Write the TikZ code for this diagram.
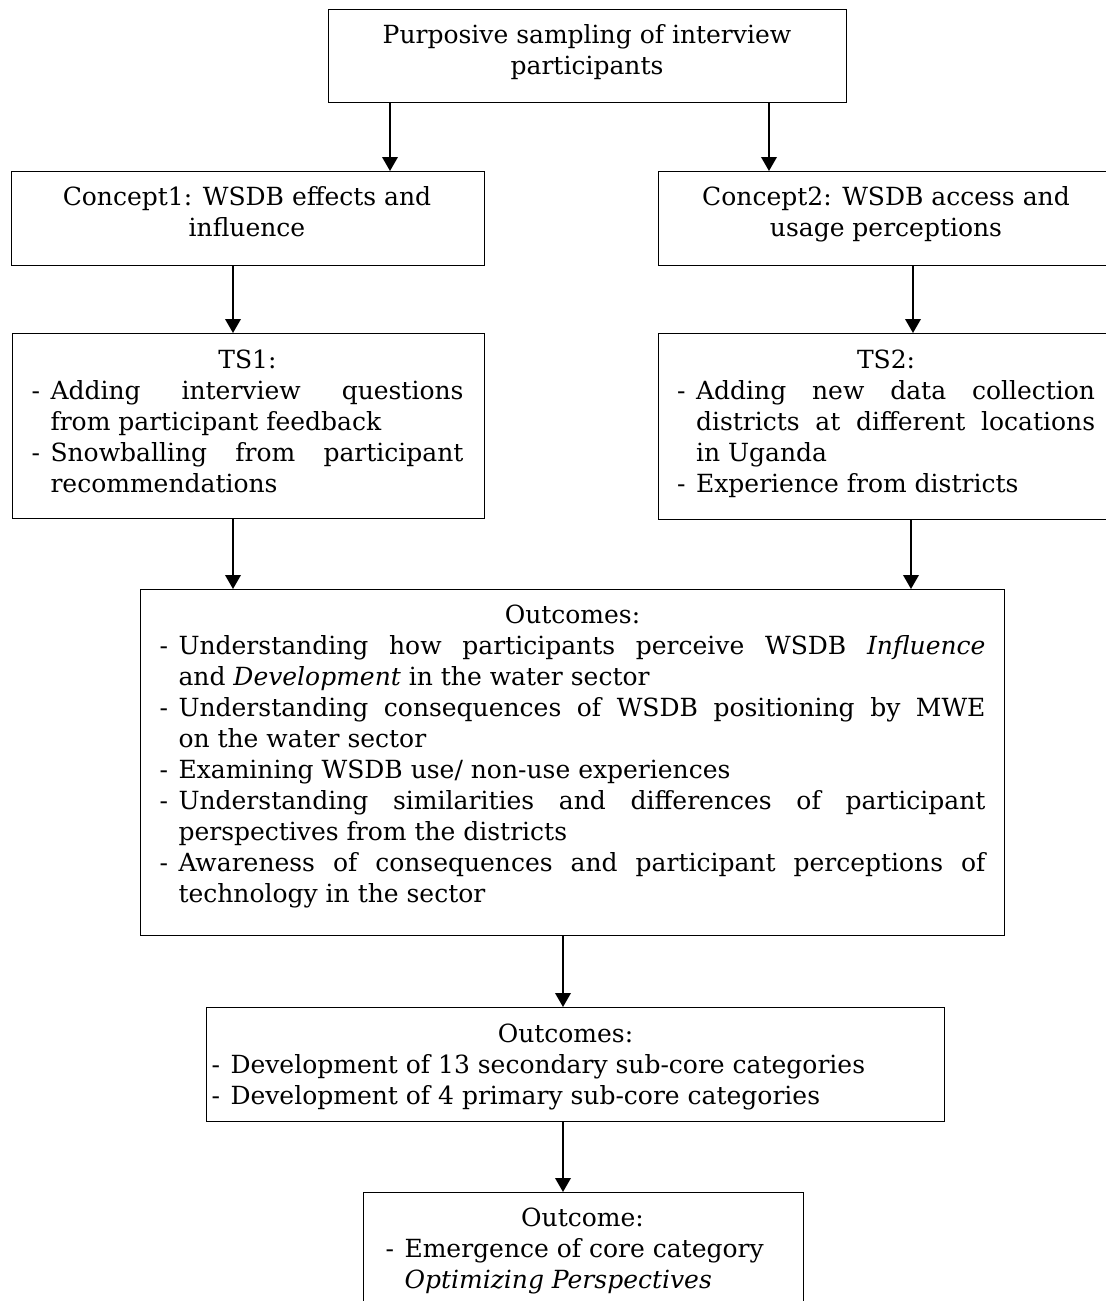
\documentclass[tikz,border=0pt]{standalone}
\usepackage{fontspec}
\setmainfont{DejaVu Serif}
\usetikzlibrary{arrows.meta}

% width of the hanging dash in item lines
\newlength\dashw
\setlength\dashw{7.6pt}
\newcommand\dashitem[1]{\hangindent=\dashw\hangafter=1\noindent\makebox[\dashw][l]{-}#1\par}
\newcommand\boxhead[1]{\noindent\makebox[\linewidth]{\strut#1}\par}

\tikzset{
  frame/.style={draw, line width=0.55pt, inner sep=0pt, anchor=north west},
  txt/.style={inner sep=0pt, font=\fontsize{10}{12.4}\selectfont},
  para/.style={txt, anchor=north west, align=justify,
    execute at begin node={\parindent=0pt\parskip=0pt\hyphenpenalty=10000\tolerance=9999}},
  arr/.style={line width=0.8pt, -{Triangle[length=5.6pt,width=6.2pt]}}
}

\begin{document}
\begin{tikzpicture}[x=0.4pt, y=-0.4pt]
  \useasboundingbox (0,0) rectangle (1106,1301);
  \fill[white] (0,0) rectangle (1106,1301);
  \clip (0,0) rectangle (1106,1301);

  % boxes
  \node[frame, minimum width=518*0.4pt, minimum height=93*0.4pt] (top) at (328,9) {};
  \node[frame, minimum width=473*0.4pt, minimum height=94*0.4pt] (c1) at (11,171) {};
  \node[frame, minimum width=457.5*0.4pt, minimum height=94*0.4pt] (c2) at (657.5,171) {};
  \node[frame, minimum width=472*0.4pt, minimum height=185*0.4pt] (ts1) at (12,333) {};
  \node[frame, minimum width=457.5*0.4pt, minimum height=186*0.4pt] (ts2) at (657.5,333) {};
  \node[frame, minimum width=864*0.4pt, minimum height=346*0.4pt] (out) at (140,589) {};
  \node[frame, minimum width=738*0.4pt, minimum height=114*0.4pt] (sub) at (206,1007) {};
  \node[frame, minimum width=440*0.4pt, minimum height=128*0.4pt] (core) at (363,1192) {};

  % texts
  \node[txt, anchor=north, align=center] (toptext) at (587,21.3)
    {\strut Purposive sampling of interview\\participants};
  \node[txt, anchor=north, align=center] (c1text) at (247,183.3)
    {\strut Concept1: WSDB effects and\\influence};
  \node[txt, anchor=north, align=center] (c2text) at (886,183.3)
    {\strut Concept2: WSDB access and\\usage perceptions};

  \node[para, text width=432*0.4pt] (ts1text) at (31,346.3) {%
    \boxhead{TS1:}
    \dashitem{Adding interview questions\linebreak from participant feedback}
    \dashitem{Snowballing from participant\linebreak recommendations}};

  \node[para, text width=418*0.4pt] (ts2text) at (676.6,346.3) {%
    \boxhead{TS2:}
    \dashitem{Adding new data collection\linebreak districts at different locations\linebreak in Uganda}
    \dashitem{Experience from districts}};

  \node[para, text width=826*0.4pt] (outtext) at (159,601.3) {%
    \boxhead{Outcomes:}
    \dashitem{Understanding how participants perceive WSDB \textit{Influence}\linebreak and \textit{Development} in the water sector}
    \dashitem{Understanding consequences of WSDB positioning by MWE\linebreak on the water sector}
    \dashitem{Examining WSDB use/ non-use experiences}
    \dashitem{Understanding similarities and differences of participant\linebreak perspectives from the districts}
    \dashitem{Awareness of consequences and participant perceptions of\linebreak technology in the sector}};

  \node[para, text width=708*0.4pt] (subtext) at (211,1020) {%
    \boxhead{Outcomes:}
    \dashitem{Development of 13 secondary sub-core categories}
    \dashitem{Development of 4 primary sub-core categories}};

  \node[para, text width=394*0.4pt] (coretext) at (385,1204.3) {%
    \boxhead{Outcome:}
    \dashitem{Emergence of core category\newline \textit{Optimizing Perspectives}}};

  % connector columns
  \coordinate (xa) at (390,0);
  \coordinate (xb) at (769,0);
  \coordinate (xc) at (233,0);
  \coordinate (xd) at (913,0);
  \coordinate (xe) at (911,0);
  \coordinate (xf) at (563,0);

  % connectors
  \draw[arr] (top.south -| xa) -- (c1.north -| xa);
  \draw[arr] (top.south -| xb) -- (c2.north -| xb);
  \draw[arr] (c1.south -| xc) -- (ts1.north -| xc);
  \draw[arr] (c2.south -| xd) -- (ts2.north -| xd);
  \draw[arr] (ts1.south -| xc) -- (out.north -| xc);
  \draw[arr] (ts2.south -| xe) -- (out.north -| xe);
  \draw[arr] (out.south -| xf) -- (sub.north -| xf);
  \draw[arr] (sub.south -| xf) -- (core.north -| xf);
\end{tikzpicture}
\end{document}
